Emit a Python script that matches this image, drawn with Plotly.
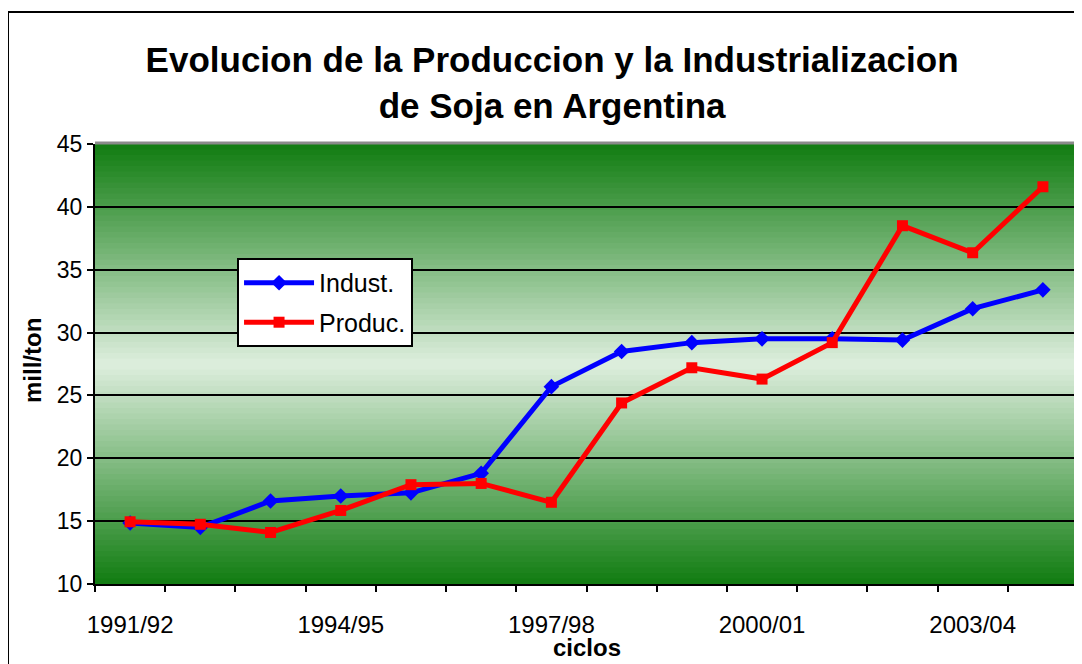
import plotly.graph_objects as go

# ── Data ─────────────────────────────────────────────────────────────────────
ciclos = ["1991/92", "1992/93", "1993/94", "1994/95", "1995/96", "1996/97", "1997/98",
          "1998/99", "1999/00", "2000/01", "2001/02", "2002/03", "2003/04", "2004/05"]
indust = [14.85, 14.5, 16.6, 17.0, 17.25, 18.8, 25.7, 28.5, 29.2, 29.5, 29.5, 29.4, 31.9, 33.4]
produc = [14.95, 14.75, 14.1, 15.85, 17.9, 18.0, 16.5, 24.4, 27.2, 26.3, 29.2, 38.5, 36.35, 41.6]

x_idx = list(range(len(ciclos)))

FONT = "Liberation Sans, Arial, sans-serif"

# ── Gradient background (dark green -> pale -> dark green) ───────────────────
DARK = (16, 124, 16)
LIGHT = (222, 238, 222)
N_BANDS = 80
shapes = []
for i in range(N_BANDS):
    y0 = i / N_BANDS
    y1 = (i + 1) / N_BANDS
    mid = (y0 + y1) / 2
    t = 1 - abs(mid - 0.5) * 2  # 0 at edges, 1 at centre
    c = tuple(round(d + (l - d) * t) for d, l in zip(DARK, LIGHT))
    shapes.append(dict(type="rect", xref="paper", yref="paper", x0=0, x1=1, y0=y0, y1=y1 + 0.002,
                       fillcolor=f"rgb{c}", line=dict(width=0), layer="below"))

# gray frame on top / right of plot area
shapes.append(dict(type="line", xref="paper", yref="paper", x0=0, x1=1.002, y0=1.002, y1=1.002,
                   line=dict(color="#8a8a8a", width=3), layer="above"))
shapes.append(dict(type="line", xref="paper", yref="paper", x0=1.002, x1=1.002, y0=0, y1=1.002,
                   line=dict(color="#8a8a8a", width=3), layer="above"))
# outer chart frame
shapes.append(dict(type="rect", xref="paper", yref="paper", x0=-0.0885, x1=1.02, y0=-0.2, y1=1.3,
                   line=dict(color="black", width=2), fillcolor="rgba(0,0,0,0)", layer="above"))

fig = go.Figure()
fig.add_trace(go.Scatter(
    x=x_idx, y=indust, name="Indust.", mode="lines+markers", legendgroup="a",
    line=dict(color="#0000ff", width=5),
    marker=dict(symbol="diamond", size=12, color="#0000ff"),
))
fig.add_trace(go.Scatter(
    x=x_idx, y=produc, name="Produc.", mode="lines+markers", legendgroup="b",
    line=dict(color="#ff0000", width=5),
    marker=dict(symbol="square", size=11, color="#ff0000"),
))

# axis titles as annotations for exact placement
fig.add_annotation(text="<b>ciclos</b>", xref="paper", yref="paper", x=0.5, y=-0.145,
                   xanchor="center", yanchor="middle", showarrow=False,
                   font=dict(size=24, family=FONT, color="black"))
fig.add_annotation(text="<b>mill/ton</b>", xref="paper", yref="paper", x=-0.063, y=0.507,
                   xanchor="center", yanchor="middle", showarrow=False, textangle=-90,
                   font=dict(size=24, family=FONT, color="black"))

fig.update_layout(
    width=1074, height=656,
    autosize=False,
    paper_bgcolor="white",
    plot_bgcolor="rgba(0,0,0,0)",
    font=dict(family=FONT, color="black", size=22),
    margin=dict(l=87, r=4, t=136, b=80, autoexpand=False),
    shapes=shapes,
    title=dict(
        text="<b>Evolucion de la Produccion y la Industrializacion<br>de Soja en Argentina</b>",
        font=dict(size=35, family=FONT, color="black"),
        x=0.465, xref="paper", xanchor="center",
        y=1 - 64 / 656, yref="container", yanchor="top",
    ),
    legend=dict(
        x=0.1445, y=0.741, xanchor="left", yanchor="top",
        bgcolor="white", bordercolor="black", borderwidth=2,
        font=dict(size=25, family=FONT),
        itemwidth=70,
        tracegroupgap=4,
    ),
    xaxis=dict(
        range=[-0.5, len(ciclos) - 0.5],
        tickvals=x_idx[::3], ticktext=ciclos[::3],
        ticks="", showgrid=False, zeroline=False,
        showline=True, linecolor="black", linewidth=2,
        ticklabelstandoff=18,
        minor=dict(tick0=0.5, dtick=1, ticks="outside", ticklen=6, tickcolor="black", tickwidth=2,
                   showgrid=False),
        tickfont=dict(size=24, family=FONT),
        automargin=False,
    ),
    yaxis=dict(
        range=[10, 45], dtick=5,
        ticks="outside", ticklen=6, tickcolor="black", tickwidth=2,
        showgrid=True, gridcolor="black", gridwidth=1.5,
        zeroline=False,
        showline=True, linecolor="black", linewidth=2,
        tickfont=dict(size=23, family=FONT),
        automargin=False,
    ),
)

fig.write_html("out.html")
